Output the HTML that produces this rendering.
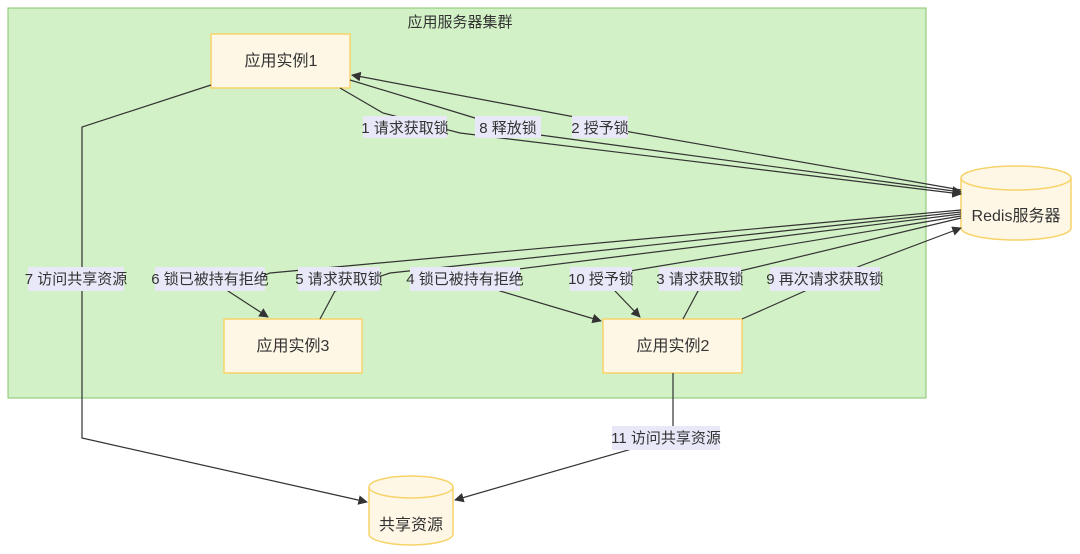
<!DOCTYPE html>
<html><head><meta charset="utf-8"><style>
body{margin:0;background:#fff;}
svg{display:block;font-family:"Liberation Sans","Noto Sans CJK SC",sans-serif;}
.lb{fill:#e8e8f8;}
.lt{font-size:15px;fill:#333;text-anchor:middle;}
.nt{font-size:16px;fill:#333;text-anchor:middle;}
.e{fill:none;stroke:#333;stroke-width:1.2;}
</style></head><body>
<svg width="1080" height="554" viewBox="0 0 1080 554">
<defs><marker id="a" viewBox="0 0 10 10" refX="9" refY="5" markerWidth="8" markerHeight="8" orient="auto"><path d="M0,0L10,5L0,10z" fill="#333"/></marker></defs>
<rect x="8" y="8" width="918" height="390" fill="#d3f1c6" stroke="#86c46b" stroke-width="1"/>
<text x="460" y="27" class="lt">应用服务器集群</text>
<rect x="211" y="34" width="139" height="54" fill="#fff7e6" stroke="#f7d36a" stroke-width="1.5"/>
<text x="281" y="66" class="nt">应用实例1</text>
<rect x="224" y="319" width="138" height="54" fill="#fff7e6" stroke="#f7d36a" stroke-width="1.5"/>
<text x="293" y="351" class="nt">应用实例3</text>
<rect x="603" y="319" width="139" height="54" fill="#fff7e6" stroke="#f7d36a" stroke-width="1.5"/>
<text x="673" y="351" class="nt">应用实例2</text>
<path d="M961,178 L961,228 A55,12 0 0 0 1071,228 L1071,178" fill="#fff7e6" stroke="#f7d36a" stroke-width="1.5"/>
<ellipse cx="1016" cy="178" rx="55" ry="12" fill="#fff7e6" stroke="#f7d36a" stroke-width="1.5"/>
<text x="1016" y="221" class="nt">Redis服务器</text>
<path d="M369,487 L369,534 A42,11 0 0 0 453,534 L453,487" fill="#fff7e6" stroke="#f7d36a" stroke-width="1.5"/>
<ellipse cx="411" cy="487" rx="42" ry="11" fill="#fff7e6" stroke="#f7d36a" stroke-width="1.5"/>
<text x="411" y="530" class="nt">共享资源</text>
<polyline class="e" points="340,88 383,113 460,133 961,194" marker-end="url(#a)"/>
<polyline class="e" points="350,80 475,118 540,135 961,192" marker-end="url(#a)"/>
<polyline class="e" points="961,190 630,132 580,118 352,75" marker-end="url(#a)"/>
<polyline class="e" points="211,85 82,127 82,438 367,502" marker-end="url(#a)"/>
<polyline class="e" points="961,210 270,273 228,291 268,317" marker-end="url(#a)"/>
<polyline class="e" points="320,319 335,291 390,273 961,212"/>
<polyline class="e" points="961,214 510,270 500,291 601,321" marker-end="url(#a)"/>
<polyline class="e" points="961,216 630,271 615,291 640,317" marker-end="url(#a)"/>
<polyline class="e" points="683,319 698,291 740,271 961,218"/>
<polyline class="e" points="742,319 805,291 860,266 961,228" marker-end="url(#a)"/>
<polyline class="e" points="673,373 673,437 455,500" marker-end="url(#a)"/>
<rect class="lb" x="363" y="116" width="84" height="22"/><text class="lt" x="405" y="133">1 请求获取锁</text>
<rect class="lb" x="475" y="116" width="66" height="22"/><text class="lt" x="508" y="133">8 释放锁</text>
<rect class="lb" x="572" y="116" width="56" height="22"/><text class="lt" x="600" y="133">2 授予锁</text>
<rect class="lb" x="28" y="267" width="96" height="24"/><text class="lt" x="76" y="284">7 访问共享资源</text>
<rect class="lb" x="155" y="267" width="110" height="24"/><text class="lt" x="210" y="284">6 锁已被持有拒绝</text>
<rect class="lb" x="298" y="267" width="82" height="24"/><text class="lt" x="339" y="284">5 请求获取锁</text>
<rect class="lb" x="410" y="267" width="110" height="24"/><text class="lt" x="465" y="284">4 锁已被持有拒绝</text>
<rect class="lb" x="570" y="267" width="62" height="24"/><text class="lt" x="601" y="284">10 授予锁</text>
<rect class="lb" x="659" y="267" width="82" height="24"/><text class="lt" x="700" y="284">3 请求获取锁</text>
<rect class="lb" x="770" y="267" width="110" height="24"/><text class="lt" x="825" y="284">9 再次请求获取锁</text>
<rect class="lb" x="612" y="426" width="108" height="24"/><text class="lt" x="666" y="443">11 访问共享资源</text>
</svg>
</body></html>
